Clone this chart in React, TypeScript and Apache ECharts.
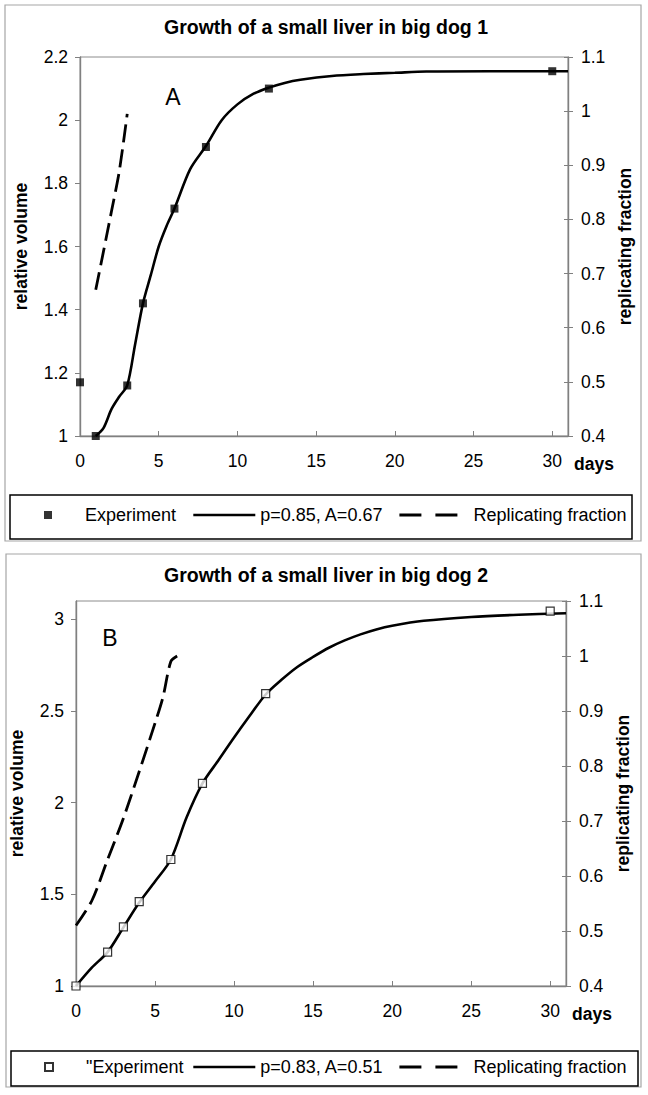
import React, { useEffect, useRef } from 'react';
import * as echarts from 'echarts';

// ---------- Data: panel A (big dog 1) ----------
const exp1Days = [0, 1, 3, 4, 6, 8, 12, 30];
const exp1Vol = [1.17, 1.0, 1.16, 1.42, 1.72, 1.915, 2.1, 2.155];
const fit1Days = [1, 1.5, 2, 2.5, 3, 3.5, 4, 4.5, 5, 5.5, 6, 7, 8, 9, 10, 11, 12, 13, 14, 16, 18, 20, 22, 26, 31];
const fit1Vol = [1.0, 1.026, 1.085, 1.125, 1.16, 1.29, 1.42, 1.51, 1.6, 1.665, 1.72, 1.845, 1.918, 2.0, 2.05, 2.083, 2.103, 2.118, 2.128, 2.14, 2.146, 2.15, 2.154, 2.155, 2.155];
const rep1Days = [1, 1.5, 2, 2.5, 3];
const rep1Frac = [0.67, 0.742, 0.815, 0.89, 0.995];

// ---------- Data: panel B (big dog 2) ----------
const exp2Days = [0, 2, 3, 4, 6, 8, 12, 30];
const exp2Vol = [1.0, 1.185, 1.323, 1.46, 1.69, 2.105, 2.595, 3.045];
const fit2Days = [0, 1, 2, 3, 4, 5, 6, 7, 8, 9, 10, 11, 12, 13, 14, 15, 16, 17, 18, 19, 20, 22, 25, 28, 31];
const fit2Vol = [1.0, 1.1, 1.185, 1.32, 1.455, 1.57, 1.69, 1.92, 2.105, 2.23, 2.355, 2.475, 2.59, 2.67, 2.74, 2.795, 2.845, 2.885, 2.918, 2.945, 2.965, 2.992, 3.013, 3.025, 3.033];
const rep2Days = [0, 1, 2, 3, 4, 5, 5.5, 6, 6.4];
const rep2Frac = [0.51, 0.555, 0.63, 0.705, 0.79, 0.878, 0.925, 0.99, 1.0];

const titles = ['Growth of a small liver in big dog 1', 'Growth of a small liver in big dog 2'];
const panelLetters = ['A', 'B'];
const expNames = ['Experiment', '"Experiment'];
const fitNames = ['p=0.85, A=0.67', 'p=0.83, A=0.51'];
const repNames = ['Replicating fraction', 'Replicating fraction '];

const FONT = "'Liberation Sans', Arial, Helvetica, sans-serif";

const zip = (xs: number[], ys: number[]) => xs.map((x, i) => [x, ys[i]]);

function buildOption(): any {
  const axisLineStyle = { show: true, lineStyle: { color: '#808080', width: 1.4 } };
  const labelStyle = { color: '#000', fontSize: 17.5, fontFamily: FONT };
  const nameStyle = { color: '#000', fontSize: 17.5, fontWeight: 'bold', fontFamily: FONT };

  const grids = [
    { left: 80, top: 57, width: 488, height: 379 },
    { left: 76, top: 601, width: 490, height: 385 },
  ].map((g) => ({ ...g, show: true, borderColor: '#8c8c8c', borderWidth: 1, containLabel: false }));

  const xAxes = [0, 1].map((gi) => ({
    type: 'value',
    gridIndex: gi,
    min: 0,
    max: 31,
    interval: 5,
    axisLine: axisLineStyle,
    axisTick: { show: true, inside: true, length: 5, lineStyle: { color: '#808080' } },
    axisLabel: { ...labelStyle, margin: 16, showMaxLabel: false },
    splitLine: { show: false },
    name: 'days',
    nameLocation: 'end',
    nameGap: 6,
    nameTextStyle: { ...nameStyle, verticalAlign: 'top', padding: [19, 0, 0, 0] },
  }));

  const leftY = (gi: number, min: number, max: number, interval: number, showMax: boolean) => ({
    type: 'value',
    gridIndex: gi,
    position: 'left',
    min,
    max,
    interval,
    axisLine: axisLineStyle,
    axisTick: { show: true, inside: false, length: 5, lineStyle: { color: '#808080' } },
    axisLabel: { ...labelStyle, margin: 12, showMaxLabel: showMax },
    splitLine: { show: false },
    name: 'relative volume',
    nameLocation: 'middle',
    nameRotate: 90,
    nameGap: 50,
    nameTextStyle: nameStyle,
  });
  const rightY = (gi: number) => ({
    type: 'value',
    gridIndex: gi,
    position: 'right',
    min: 0.4,
    max: 1.1,
    interval: 0.1,
    axisLine: axisLineStyle,
    axisTick: { show: true, inside: false, length: 5, lineStyle: { color: '#808080' } },
    axisLabel: { ...labelStyle, margin: 13 },
    splitLine: { show: false },
    name: 'replicating fraction',
    nameLocation: 'middle',
    nameRotate: 90,
    nameGap: 46,
    nameTextStyle: nameStyle,
  });
  // inner tick marks on the right axes (Excel draws crossing ticks)
  const rightInnerY = (gi: number) => ({
    type: 'value',
    gridIndex: gi,
    position: 'right',
    min: 0.4,
    max: 1.1,
    interval: 0.1,
    axisLine: { show: false },
    axisTick: { show: true, inside: true, length: 4, lineStyle: { color: '#808080' } },
    axisLabel: { show: false },
    splitLine: { show: false },
  });

  const yAxes = [
    leftY(0, 1, 2.2, 0.2, true),
    rightY(0),
    leftY(1, 1, 3.1, 0.5, false),
    rightY(1),
    rightInnerY(0),
    rightInnerY(1),
  ];

  const fitLine = { color: '#000', width: 2.6, type: 'solid' };
  const repLine = { color: '#000', width: 2.8, type: [18, 7] };

  const series: any[] = [
    {
      name: expNames[0], type: 'scatter', xAxisIndex: 0, yAxisIndex: 0,
      symbol: 'rect', symbolSize: 8, itemStyle: { color: '#000' },
      data: zip(exp1Days, exp1Vol), z: 5,
    },
    {
      name: fitNames[0], type: 'line', xAxisIndex: 0, yAxisIndex: 0,
      showSymbol: false, symbol: 'none', smooth: 0.3, lineStyle: fitLine, itemStyle: { color: '#000' },
      data: zip(fit1Days, fit1Vol),
    },
    {
      name: repNames[0], type: 'line', xAxisIndex: 0, yAxisIndex: 1,
      showSymbol: false, symbol: 'none', smooth: 0.3, lineStyle: repLine, itemStyle: { color: '#000' },
      data: zip(rep1Days, rep1Frac),
    },
    {
      name: expNames[1], type: 'scatter', xAxisIndex: 1, yAxisIndex: 2,
      symbol: 'rect', symbolSize: 8, itemStyle: { color: '#fff', borderColor: '#000', borderWidth: 1.2 },
      data: zip(exp2Days, exp2Vol), z: 5,
    },
    {
      name: fitNames[1], type: 'line', xAxisIndex: 1, yAxisIndex: 2,
      showSymbol: false, symbol: 'none', smooth: 0.3, lineStyle: fitLine, itemStyle: { color: '#000' },
      data: zip(fit2Days, fit2Vol),
    },
    {
      name: repNames[1], type: 'line', xAxisIndex: 1, yAxisIndex: 3,
      showSymbol: false, symbol: 'none', smooth: 0.3, lineStyle: repLine, itemStyle: { color: '#000' },
      data: zip(rep2Days, rep2Frac),
    },
  ];

  const legendText = { color: '#000', fontSize: 18, fontFamily: FONT };
  const legendCenters = [516, 1068];
  const hiddenSymbol = { opacity: 0, color: 'transparent', borderWidth: 0 };
  const legends: any[] = [];
  [0, 1].forEach((i) => {
    const top = legendCenters[i] - 10;
    legends.push({
      data: [expNames[i]],
      left: 44,
      top,
      padding: 0,
      itemWidth: 8,
      itemHeight: 8,
      selectedMode: false,
      textStyle: { ...legendText, padding: [0, 0, 0, 28] },
    });
    legends.push({
      data: [fitNames[i]],
      left: 192,
      top,
      padding: 0,
      itemWidth: 62,
      itemHeight: 14,
      selectedMode: false,
      itemStyle: hiddenSymbol,
      lineStyle: { type: 'solid', width: 2.6 },
      textStyle: legendText,
    });
    legends.push({
      data: [repNames[i]],
      left: 398,
      top,
      padding: 0,
      itemWidth: 60,
      itemHeight: 14,
      selectedMode: false,
      itemStyle: hiddenSymbol,
      lineStyle: { type: [22, 14], width: 2.8 },
      textStyle: { ...legendText, padding: [0, 0, 0, 9] },
      formatter: (n: string) => n.trim(),
    });
  });

  const graphic: any[] = [
    // panel borders
    { type: 'rect', shape: { x: 5, y: 5, width: 636, height: 536 }, style: { fill: 'none', stroke: '#a6a6a6', lineWidth: 1.2 }, silent: true },
    { type: 'rect', shape: { x: 6, y: 554, width: 635, height: 533 }, style: { fill: 'none', stroke: '#a6a6a6', lineWidth: 1.2 }, silent: true },
    // legend boxes
    { type: 'rect', shape: { x: 10, y: 495, width: 622, height: 44 }, style: { fill: 'none', stroke: '#000', lineWidth: 1.5 }, silent: true },
    { type: 'rect', shape: { x: 11, y: 1051, width: 627, height: 35 }, style: { fill: 'none', stroke: '#000', lineWidth: 1.5 }, silent: true },
    // titles
    { type: 'text', x: 326, y: 27, style: { text: titles[0], font: `bold 19.5px ${FONT}`, fill: '#000', align: 'center', verticalAlign: 'middle' }, silent: true },
    { type: 'text', x: 326, y: 575, style: { text: titles[1], font: `bold 19.5px ${FONT}`, fill: '#000', align: 'center', verticalAlign: 'middle' }, silent: true },
    // panel letters
    { type: 'text', x: 173, y: 97, style: { text: panelLetters[0], font: `23px ${FONT}`, fill: '#000', align: 'center', verticalAlign: 'middle' }, silent: true },
    { type: 'text', x: 110, y: 638, style: { text: panelLetters[1], font: `23px ${FONT}`, fill: '#000', align: 'center', verticalAlign: 'middle' }, silent: true },
  ];

  return {
    animation: false,
    backgroundColor: '#fff',
    textStyle: { fontFamily: FONT },
    grid: grids,
    xAxis: xAxes,
    yAxis: yAxes,
    legend: legends,
    series,
    graphic,
  };
}

export default function App() {
  const ref = useRef<HTMLDivElement>(null);
  useEffect(() => {
    if (!ref.current) return;
    const chart = echarts.init(ref.current, null, { renderer: 'svg' });
    chart.setOption(buildOption());
    return () => chart.dispose();
  }, []);
  return (
    <div
      ref={ref}
      style={{ position: 'absolute', left: 0, top: 0, width: 648, height: 1095, background: '#fff' }}
    />
  );
}
